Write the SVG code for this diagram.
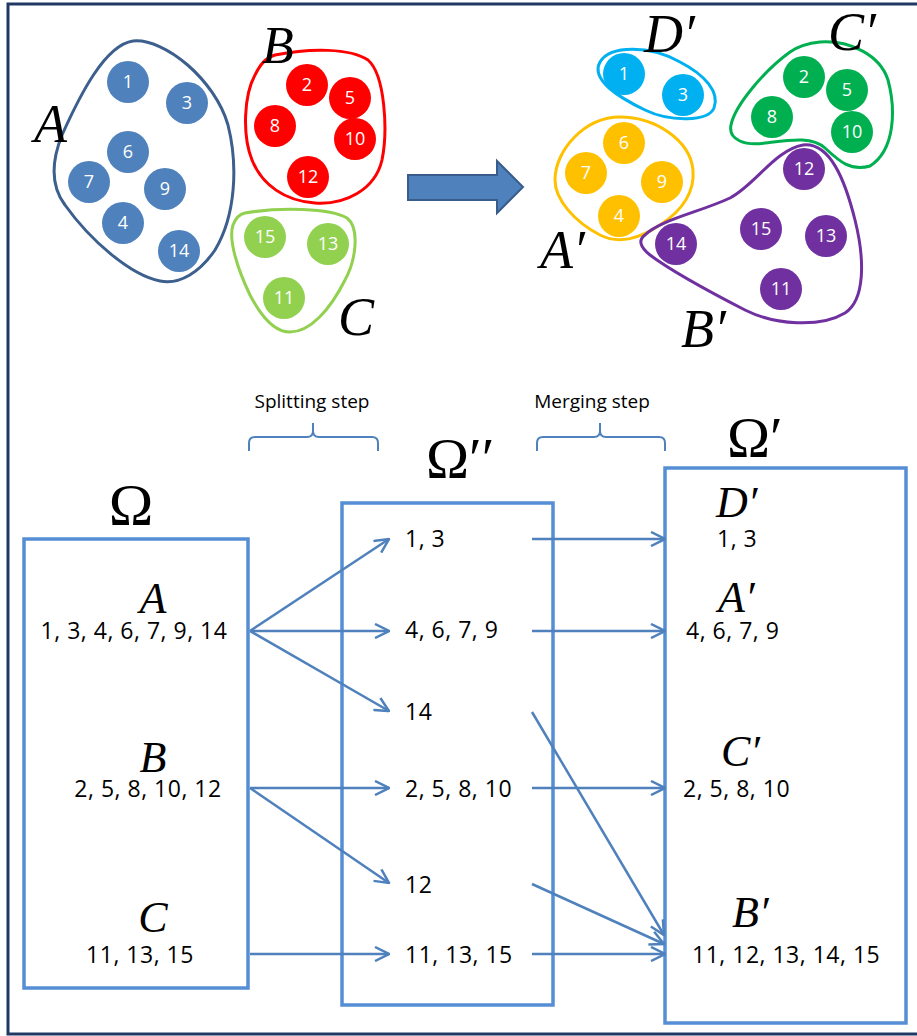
<svg xmlns="http://www.w3.org/2000/svg" width="917" height="1036" viewBox="0 0 917 1036">
<defs>
<style>
.num{font-family:"Open Sans","Liberation Sans",sans-serif;font-size:18px;fill:#fff;text-anchor:middle}
.blob{fill:none;stroke-width:3}
.mi{font-family:"Liberation Serif","DejaVu Serif",serif;font-style:italic;fill:#000}
.om{font-family:"Liberation Serif","DejaVu Serif",serif;fill:#000}
.lst{font-family:"Open Sans","Liberation Sans",sans-serif;font-size:23px;fill:#000;letter-spacing:0.5px}
.step{font-family:"Open Sans","Liberation Sans",sans-serif;font-size:19px;fill:#000;text-anchor:middle}
.box{fill:#fff;stroke:#558ed5;stroke-width:3.5}
.conn{stroke:#4f81bd;stroke-width:2.5;fill:none;marker-end:url(#ah)}
.brace{fill:none;stroke:#4f81bd;stroke-width:2}
</style>
<marker id="ah" viewBox="0 0 16 16" refX="15" refY="8" markerWidth="16" markerHeight="16" markerUnits="userSpaceOnUse" orient="auto">
<path d="M1,1 L15,8 L1,15" fill="none" stroke="#4f81bd" stroke-width="2.5"/>
</marker>
</defs>
<rect x="0" y="0" width="917" height="1036" fill="#fff"/>
<rect x="8" y="4" width="930" height="1030" fill="none" stroke="#1f3864" stroke-width="3"/>

<g id="clusterA">
<path class="blob" stroke="#3c5f8d" d="M133,41 C165,38 215,80 228,125 C238,165 236,215 215,250 C200,272 180,285 160,281 C130,275 90,240 65,205 C50,185 52,160 62,135 C80,95 105,45 133,41 Z"/>
<g fill="#4f81bd">
<circle cx="128" cy="82" r="21"/><circle cx="187" cy="103" r="21"/><circle cx="128" cy="152" r="21"/><circle cx="89" cy="182" r="21"/><circle cx="165" cy="189" r="21"/><circle cx="123" cy="223" r="21"/><circle cx="179" cy="251" r="21"/>
</g>
<text class="num" x="128" y="88">1</text><text class="num" x="187" y="109">3</text><text class="num" x="128" y="158">6</text><text class="num" x="89" y="188">7</text><text class="num" x="165" y="195">9</text><text class="num" x="123" y="229">4</text><text class="num" x="179" y="257">14</text>
<text class="mi" x="34" y="142" font-size="54">A</text>
</g>

<g id="clusterB">
<path class="blob" stroke="#ff0000" d="M275,55 C310,48 350,48 368,60 C385,75 388,130 382,160 C375,190 345,205 315,203 C285,201 262,185 252,160 C242,135 244,95 255,75 C260,65 265,58 275,55 Z"/>
<g fill="#ff0000">
<circle cx="307" cy="85" r="21"/><circle cx="350" cy="98" r="21"/><circle cx="275" cy="126" r="21"/><circle cx="355" cy="139" r="21"/><circle cx="308" cy="177" r="21"/>
</g>
<text class="num" x="307" y="91">2</text><text class="num" x="350" y="104">5</text><text class="num" x="275" y="132">8</text><text class="num" x="355" y="145">10</text><text class="num" x="308" y="183">12</text>
<text class="mi" x="262" y="63" font-size="52">B</text>
</g>

<g id="clusterC">
<path class="blob" stroke="#92d050" d="M245,213 C280,207 330,208 347,218 C360,228 356,260 345,280 C330,310 310,332 290,332 C275,332 262,318 250,295 C238,270 228,240 233,225 C236,217 240,214 245,213 Z"/>
<g fill="#92d050">
<circle cx="265" cy="237" r="21"/><circle cx="328" cy="244" r="21"/><circle cx="284" cy="298" r="21"/>
</g>
<text class="num" x="265" y="243">15</text><text class="num" x="328" y="250">13</text><text class="num" x="284" y="304">11</text>
<text class="mi" x="338" y="335" font-size="54">C</text>
</g>

<g id="bigArrow">
<polygon points="408,175 497,175 497,161 523,187 497,213 497,200 408,200" fill="#4f81bd" stroke="#385d8a" stroke-width="2"/>
</g>

<g id="clusterDp">
<path class="blob" stroke="#00b0f0" d="M600,62 C610,45 650,45 680,62 C705,75 720,92 714,108 C708,122 670,122 645,110 C620,98 590,80 600,62 Z"/>
<g fill="#00b0f0"><circle cx="624" cy="74" r="21"/><circle cx="683" cy="95" r="21"/></g>
<text class="num" x="624" y="80">1</text><text class="num" x="683" y="101">3</text>
<text class="mi" x="644" y="52" font-size="54">D′</text>
</g>

<g id="clusterCp">
<path class="blob" stroke="#00b050" d="M820,42 C850,40 880,55 888,80 C896,110 895,150 870,166 C850,172 838,160 825,148 C812,136 790,140 765,143 C745,146 728,140 731,125 C735,105 765,70 790,52 C800,45 810,43 820,42 Z"/>
<g fill="#00b050"><circle cx="804" cy="77" r="21"/><circle cx="847" cy="90" r="21"/><circle cx="772" cy="117" r="21"/><circle cx="852" cy="132" r="21"/></g>
<text class="num" x="804" y="83">2</text><text class="num" x="847" y="96">5</text><text class="num" x="772" y="123">8</text><text class="num" x="852" y="138">10</text>
<text class="mi" x="828" y="50" font-size="54">C′</text>
</g>

<g id="clusterAp">
<path class="blob" stroke="#ffc000" d="M620,117 C655,117 690,140 693,170 C695,195 680,212 660,225 C640,238 620,245 600,235 C575,222 555,200 555,180 C555,150 585,117 620,117 Z"/>
<g fill="#ffc000"><circle cx="624" cy="143" r="21"/><circle cx="586" cy="173" r="21"/><circle cx="662" cy="182" r="21"/><circle cx="619" cy="216" r="21"/></g>
<text class="num" x="624" y="149">6</text><text class="num" x="586" y="179">7</text><text class="num" x="662" y="188">9</text><text class="num" x="619" y="222">4</text>
<text class="mi" x="540" y="268" font-size="54">A′</text>
</g>

<g id="clusterBp">
<path class="blob" stroke="#7030a0" d="M645,235 C660,220 700,212 730,198 C755,185 775,150 803,145 C830,142 845,180 855,220 C865,260 865,300 845,313 C820,328 775,325 745,310 C710,292 670,270 650,255 C640,247 638,240 645,235 Z"/>
<g fill="#7030a0"><circle cx="804" cy="169" r="21"/><circle cx="676" cy="244" r="21"/><circle cx="761" cy="229" r="21"/><circle cx="826" cy="236" r="21"/><circle cx="781" cy="289" r="21"/></g>
<text class="num" x="804" y="175">12</text><text class="num" x="676" y="250">14</text><text class="num" x="761" y="235">15</text><text class="num" x="826" y="242">13</text><text class="num" x="781" y="295">11</text>
<text class="mi" x="681" y="347" font-size="54">B′</text>
</g>

<g id="splitStep">
<text class="step" x="312" y="408">Splitting step</text>
<path class="brace" d="M249,451 L249,443 Q249,437 255,437 L307,437 Q313,437 313,431 L313,423 M313,431 Q313,437 319,437 L372,437 Q378,437 378,443 L378,451"/>
</g>
<g id="mergeStep">
<text class="step" x="592" y="408">Merging step</text>
<path class="brace" d="M537,451 L537,443 Q537,437 543,437 L594,437 Q600,437 600,431 L600,423 M600,431 Q600,437 606,437 L659,437 Q665,437 665,443 L665,451"/>
</g>

<g id="omega">
<text class="om" x="131" y="525" font-size="60" text-anchor="middle">Ω</text>
<rect class="box" x="24" y="539" width="224" height="449"/>
<text class="mi" x="153" y="613" font-size="44" text-anchor="middle">A</text>
<text class="lst" x="134" y="639" text-anchor="middle">1, 3, 4, 6, 7, 9, 14</text>
<text class="mi" x="153" y="772" font-size="44" text-anchor="middle">B</text>
<text class="lst" x="148" y="797" text-anchor="middle">2, 5, 8, 10, 12</text>
<text class="mi" x="153" y="932" font-size="44" text-anchor="middle">C</text>
<text class="lst" x="140" y="963" text-anchor="middle">11, 13, 15</text>
</g>

<g id="omega2">
<text class="om" x="426" y="478" font-size="58">Ω′′</text>
<rect class="box" x="342" y="503" width="211" height="502"/>
<text class="lst" x="405" y="547">1, 3</text>
<text class="lst" x="405" y="638">4, 6, 7, 9</text>
<text class="lst" x="405" y="720">14</text>
<text class="lst" x="405" y="797">2, 5, 8, 10</text>
<text class="lst" x="405" y="893">12</text>
<text class="lst" x="405" y="963">11, 13, 15</text>
</g>

<g id="omega1">
<text class="om" x="727" y="457" font-size="58">Ω′</text>
<rect class="box" x="665" y="468" width="241" height="555"/>
<text class="mi" x="716" y="517" font-size="44">D′</text>
<text class="lst" x="717" y="547">1, 3</text>
<text class="mi" x="718" y="612" font-size="44">A′</text>
<text class="lst" x="686" y="639">4, 6, 7, 9</text>
<text class="mi" x="721" y="766" font-size="44">C′</text>
<text class="lst" x="683" y="797">2, 5, 8, 10</text>
<text class="mi" x="732" y="927" font-size="44">B′</text>
<text class="lst" x="692" y="963">11, 12, 13, 14, 15</text>
</g>

<g id="connectors">
<line class="conn" x1="250" y1="631" x2="389" y2="539"/>
<line class="conn" x1="250" y1="631" x2="389" y2="631"/>
<line class="conn" x1="250" y1="631" x2="389" y2="711"/>
<line class="conn" x1="250" y1="788" x2="389" y2="788"/>
<line class="conn" x1="250" y1="788" x2="389" y2="883"/>
<line class="conn" x1="250" y1="954" x2="389" y2="954"/>
<line class="conn" x1="532" y1="539" x2="665" y2="539"/>
<line class="conn" x1="532" y1="631" x2="665" y2="631"/>
<line class="conn" x1="532" y1="788" x2="665" y2="788"/>
<line class="conn" x1="532" y1="712" x2="664" y2="935"/>
<line class="conn" x1="532" y1="884" x2="664" y2="944"/>
<line class="conn" x1="532" y1="954" x2="665" y2="954"/>
</g>
</svg>
